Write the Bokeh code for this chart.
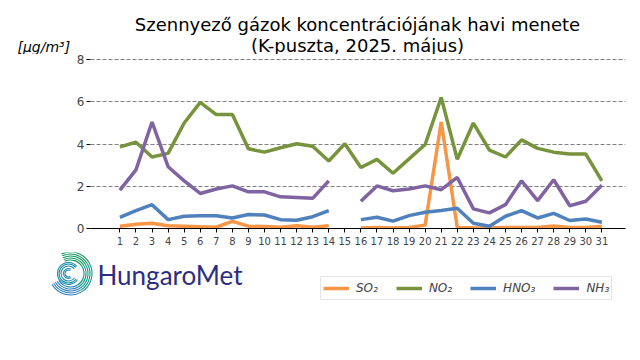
import numpy as np
from bokeh.plotting import figure
from bokeh.layouts import column
from bokeh.models import Range1d, FixedTicker, Legend, LegendItem
from bokeh.core.properties import value
from bokeh.embed import file_html
from bokeh.resources import INLINE

nan = float("nan")

days = list(range(1, 32))
tick_labels = [str(d) for d in days]

so2 = [0.11, 0.20, 0.25, 0.13, 0.11, 0.08, 0.06, 0.34, 0.11, 0.09, 0.06, 0.13, 0.06, 0.13, nan,
       0.02, 0.05, 0.02, 0.05, 0.16, 5.05, 0.05, 0.03, 0.02, 0.05, 0.05, 0.05, 0.12, 0.05, 0.05, 0.10]
no2 = [3.87, 4.09, 3.39, 3.56, 5.00, 5.98, 5.40, 5.40, 3.78, 3.62, 3.83, 4.02, 3.90, 3.20, 4.02,
       2.89, 3.28, 2.62, 3.30, 3.98, 6.21, 3.28, 5.00, 3.72, 3.39, 4.20, 3.80, 3.62, 3.53, 3.53, 2.26]
hno3 = [0.53, 0.85, 1.13, 0.42, 0.58, 0.61, 0.60, 0.50, 0.66, 0.64, 0.42, 0.39, 0.56, 0.85, nan,
        0.42, 0.53, 0.35, 0.61, 0.77, 0.85, 0.96, 0.25, 0.11, 0.58, 0.85, 0.50, 0.72, 0.38, 0.45, 0.30]
nh3 = [1.82, 2.78, 5.05, 2.93, 2.26, 1.66, 1.87, 2.02, 1.74, 1.74, 1.50, 1.47, 1.43, 2.26, nan,
       1.29, 2.02, 1.79, 1.87, 2.02, 1.84, 2.42, 0.93, 0.74, 1.13, 2.26, 1.32, 2.31, 1.08, 1.29, 2.05]

series_names = ["SO₂", "NO₂", "HNO₃", "NH₃"]
series_values = [so2, no2, hno3, nh3]
series_colors = ["#F79646", "#77933C", "#4F81BD", "#8064A2"]

y_ticks = [0, 2, 4, 6, 8]

title_line1 = "Szennyező gázok koncentrációjának havi menete"
title_line2 = "(K-puszta, 2025. május)"
unit_text = "[μg/m³]"
logo_text = "HungaroMet"

# logo spiral (decorative): bands of thin concentric arcs
logo_outer_radii = [13.5, 15.5, 17.5, 19.5, 21.5]
logo_outer_segments = [(115, 30, "#10975c"), (30, -60, "#129884"), (-60, -150, "#2b7ec0")]
logo_inner_radii = [7.5, 9.5, 11.0]
logo_inner_span = (-35, -320, "#1b8ea6")
logo_core_radii = [3.5, 5.0]
logo_core_span = (-60, -300, "#2287b0")

FONT = "DejaVu Sans"
W = 640

# ---- top strip: title + unit ----
t = figure(width=W, height=54, output_backend="svg", toolbar_location=None,
           x_range=Range1d(0, W), y_range=Range1d(54, 0), min_border=0, frame_align=False)
t.outline_line_color = None
t.axis.visible = False
t.grid.visible = False
t.text(x=[357], y=[23.5], text=[title_line1], text_font=value(FONT), text_font_size="18px",
       text_align="center", text_baseline="middle", text_color="black")
t.text(x=[357], y=[44.5], text=[title_line2], text_font=value(FONT), text_font_size="18px",
       text_align="center", text_baseline="middle", text_color="black")
t.text(x=[17], y=[46], text=[unit_text], text_font=value(FONT), text_font_size="14px",
       text_font_style="italic", text_align="left", text_baseline="middle", text_color="black")

# ---- main chart ----
p = figure(width=W, height=198, output_backend="svg", toolbar_location=None,
           x_range=Range1d(-0.83, 32.47), y_range=Range1d(0, 8.06),
           min_border_left=90, min_border_right=15, min_border_top=4, min_border_bottom=24,
           frame_align=False)
p.outline_line_color = None

for name, vals, col in zip(series_names, series_values, series_colors):
    p.line(days, vals, line_color=col, line_width=3.5)

p.xgrid.grid_line_color = None
p.ygrid.ticker = FixedTicker(ticks=y_ticks)
p.ygrid.grid_line_color = "#808080"
p.ygrid.grid_line_dash = "4 2"
p.ygrid.grid_line_width = 1

p.xaxis.ticker = FixedTicker(ticks=days)
p.xaxis.major_label_overrides = {d: t_ for d, t_ in zip(days, tick_labels)}
p.xaxis.minor_tick_line_color = None
p.xaxis.major_tick_in = 0
p.xaxis.major_tick_out = 4
p.xaxis.major_label_standoff = 4
p.xaxis.major_label_text_font = FONT
p.xaxis.major_label_text_font_size = "10px"
p.xaxis.axis_line_color = "black"

p.yaxis.ticker = FixedTicker(ticks=y_ticks)
p.yaxis.axis_line_color = None
p.yaxis.minor_tick_line_color = None
p.yaxis.major_tick_in = 0
p.yaxis.major_tick_out = 4
p.yaxis.major_label_standoff = 2
p.yaxis.major_label_text_font = FONT
p.yaxis.major_label_text_font_size = "12px"

# ---- lower strip: logo + legend ----
QH = 108
q = figure(width=W, height=QH, output_backend="svg", toolbar_location=None,
           x_range=Range1d(0, W), y_range=Range1d(QH, 0), min_border=0, frame_align=False)
q.outline_line_color = None
q.axis.visible = False
q.grid.visible = False

cx, cy = 70, 21
for a0, a1, c in logo_outer_segments:
    q.arc(x=[cx] * len(logo_outer_radii), y=[cy] * len(logo_outer_radii), radius=logo_outer_radii,
          radius_units="screen", start_angle=np.deg2rad(a0), end_angle=np.deg2rad(a1),
          direction="clock", line_color=c, line_width=1.1)
a0, a1, c = logo_inner_span
q.arc(x=[cx - 2] * len(logo_inner_radii), y=[cy] * len(logo_inner_radii), radius=logo_inner_radii,
      radius_units="screen", start_angle=np.deg2rad(a0), end_angle=np.deg2rad(a1),
      direction="clock", line_color=c, line_width=1.1)
a0, a1, c = logo_core_span
q.arc(x=[cx - 2] * len(logo_core_radii), y=[cy] * len(logo_core_radii), radius=logo_core_radii,
      radius_units="screen", start_angle=np.deg2rad(a0), end_angle=np.deg2rad(a1),
      direction="clock", line_color=c, line_width=1.1)
q.text(x=[97], y=[22], text=[logo_text], text_font=value("Lato"), text_font_size="26px",
       text_color="#2c2e83", text_baseline="alphabetic", text_align="left")

items = []
for name, col in zip(series_names, series_colors):
    r = q.line([nan], [nan], line_color=col, line_width=3.5)
    items.append(LegendItem(label=name, renderers=[r]))
leg = Legend(items=items, orientation="horizontal", location=(320, 60),
             label_text_font=FONT, label_text_font_style="italic", label_text_font_size="12px",
             glyph_width=26, glyph_height=18, label_standoff=7, spacing=18,
             padding=2, margin=0, border_line_color="#cccccc", border_line_width=1,
             background_fill_color="white")
q.add_layout(leg)

layout = column(t, p, q, spacing=0)
open("out.html", "w").write(file_html(layout, INLINE))
